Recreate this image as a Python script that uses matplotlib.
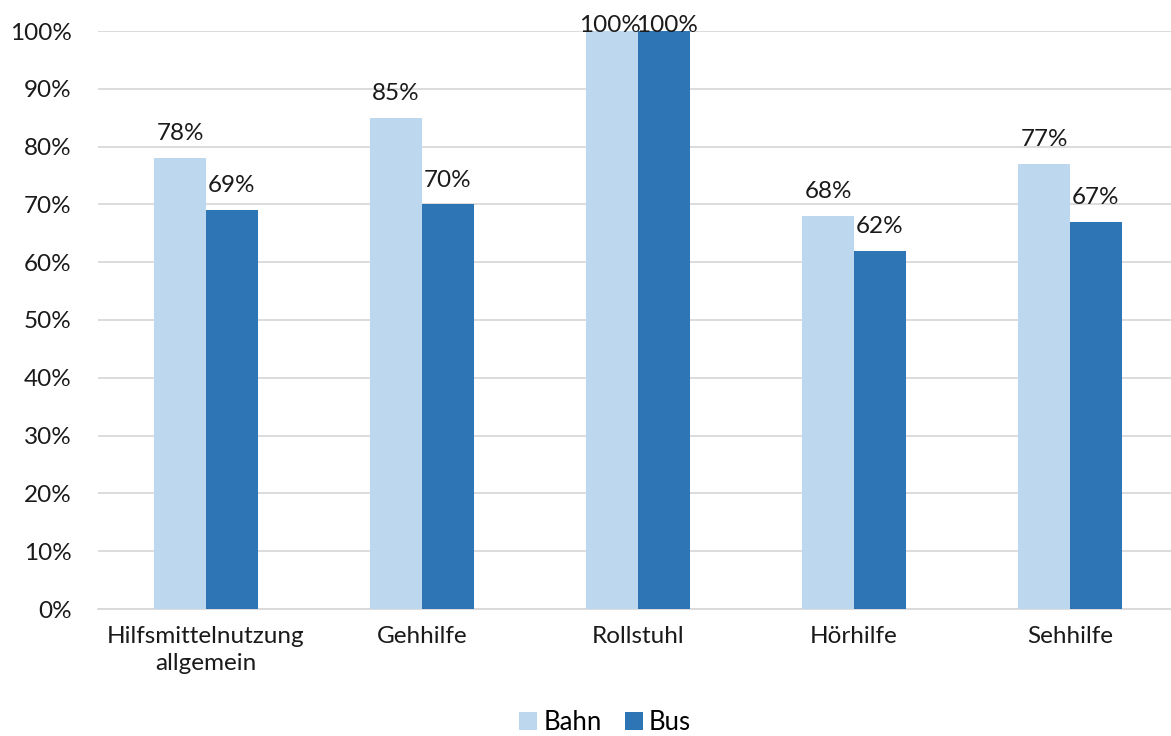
import matplotlib
matplotlib.use("Agg")
import matplotlib.pyplot as plt
import numpy as np

categories = ["Hilfsmittelnutzung\nallgemein", "Gehhilfe", "Rollstuhl", "Hörhilfe", "Sehhilfe"]
bahn = [78, 85, 100, 68, 77]
bus = [69, 70, 100, 62, 67]
series_names = ["Bahn", "Bus"]
colors = ["#BDD7EE", "#2E75B6"]

plt.rcParams["font.family"] = ["Lato", "DejaVu Sans"]
FS = 17.5

fig = plt.figure(figsize=(11.71, 7.36), dpi=100)
ax = fig.add_axes([98 / 1171, 1 - 609 / 736, 1080 / 1171, 578 / 736])

x = np.arange(len(categories))
w = 0.24
b1 = ax.bar(x - w / 2, bahn, w, color=colors[0], label=series_names[0], zorder=3)
b2 = ax.bar(x + w / 2, bus, w, color=colors[1], label=series_names[1], zorder=3)

# value labels above each bar, kept inside the plot area at the top
for bars, vals, nudge in ((b1, bahn, -0.012), (b2, bus, 0.012)):
    for rect, v in zip(bars, vals):
        dx = nudge if v >= 99 else 0.0
        ax.text(rect.get_x() + rect.get_width() / 2 + dx, min(v + 2.4, 99.2), f"{v}%",
                ha="center", va="bottom", fontsize=FS, color="#1a1a1a", zorder=4,
                clip_on=False)

ax.set_xlim(-0.5, len(categories) - 0.5)
ax.set_ylim(0, 100)
ax.set_yticks(np.arange(0, 101, 10))
ax.set_yticklabels([f"{t}%" for t in range(0, 101, 10)])
ax.set_xticks(x)
ax.set_xticklabels(categories, linespacing=1.4)
ax.tick_params(axis="both", length=0, labelsize=FS, colors="#1a1a1a")
ax.tick_params(axis="y", pad=19)
ax.tick_params(axis="x", pad=12)
ax.grid(axis="y", color="#d9d9d9", linewidth=1.3, zorder=0)
for s in ["top", "right", "left"]:
    ax.spines[s].set_visible(False)
ax.spines["bottom"].set_color("#d9d9d9")
ax.spines["bottom"].set_linewidth(1.3)

fig.legend(handles=[b1, b2], labels=series_names, loc="center",
           bbox_to_anchor=(605 / 1171, 1 - 722 / 736), ncol=2, frameon=False,
           fontsize=18.5, handlelength=0.7, handleheight=0.7, handletextpad=0.25,
           columnspacing=0.9)

fig.savefig("out.png", dpi=100)
